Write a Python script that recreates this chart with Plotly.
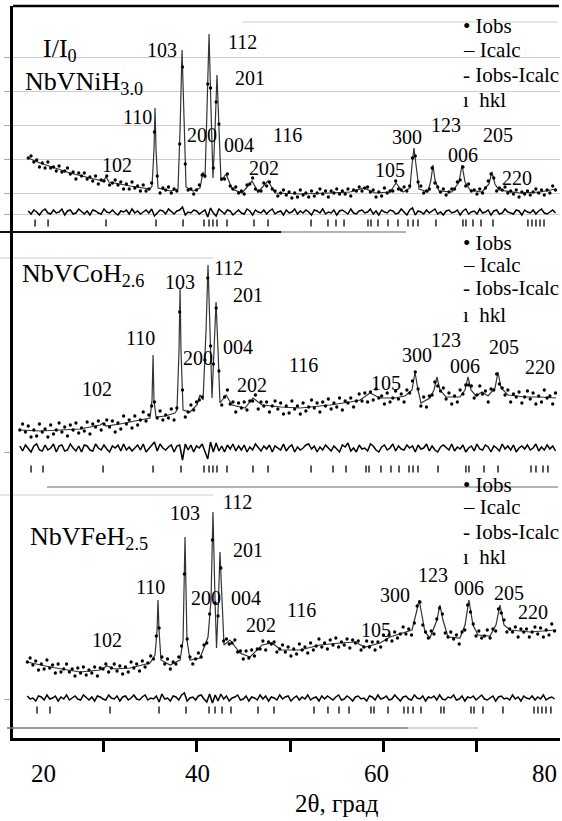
import numpy as np
import plotly.graph_objects as go

# ---------------- data ----------------
SCAN_STEP = 0.3  # 2theta step of the listed observed points, deg

# NbVNiH3.0
NI_START = 22.0
NI_OBS = [54,56,50,52,45,49,44,50,44,45, 41,46,40,41,44,38,40,33,39,36,
          39,33,35,31,36,28,32,31,36,27, 29,32,27,30,23,28,23,30,24,26,
          21,27,21,23,29,80,36,19,24,22, 25,19,23,21,68,145,48,22,23,18,
          22,27,37,36,128,124,44,110,88,33, 33,38,26,23,25,19,21,18,27,28,
          34,23,21,21,29,26,30,23,21,16, 19,22,17,20,14,19,15,22,17,19,
          15,21,16,19,23,18,21,15,21,19, 23,18,21,18,23,16,22,21,25,21,
          24,25,20,22,15,20,16,24,19,21, 21,31,23,22,25,21,26,54,56,30,
          26,19,21,23,44,29,25,20,23,17, 20,23,23,30,32,45,26,28,21,22,
          18,23,19,24,31,38,34,21,24,22, 25,19,21,18,22,15,20,18,21,17,
          20,23,19,22,17,22,19,26,22]
NI_DIFF = [1,-2,2,0,-3,1,3,-1,-2,2,-1,0,3,-3,1,2,-2,-1,3,0,
           -2,1,-3,2,1,-1,-2,3,0,-1,2,-1,-3,1,0,2,-2,3,-1,1,
           -2,0,2,-1,3,-4,-1,2,1,-2,3,0,-2,1,2,5,-3,0,-1,2,
           1,-2,0,2,-5,4,-1,-4,3,0,-2,2,1,-3,0,2,-1,-2,3,1,
           -3,2,0,-1,2,-2,1,3,-2,0,1,-3,2,-1,0,3,-2,1,-1,2,
           0,-3,2,1,-1,3,-2,0,-1,2,-3,1,2,0,-2,3,-1,-2,1,2,
           -1,0,3,-2,1,-3,2,0,-1,2,1,-2,-1,3,0,-3,2,4,-3,1,
           0,-2,2,-1,1,3,-2,0,-3,1,2,-1,0,2,-3,1,3,-2,0,1,
           -2,3,-1,0,2,-3,1,2,-2,-1,3,0,-1,-2,2,1,-3,2,0,-1,
           2,-2,1,3,-1,-2,0,2,-1]
NI_CALC_2T = [21.98,23.26,24.87,26.47,28.61,30.00,30.32,30.64,32.89,35.03,35.24,35.45,35.56,35.67,
              35.88,37.17,38.02,38.24,38.45,38.66,38.88,39.63,40.37,40.70,40.91,41.12,41.34,41.55,
              41.76,41.98,42.19,42.41,42.62,43.16,43.80,44.87,45.94,46.58,47.65,48.40,51.07,54.28,
              56.42,57.91,59.09,60.70,61.34,62.09,62.83,63.05,63.26,63.48,63.80,64.76,65.08,65.29,
              65.51,65.94,67.33,68.08,68.40,68.72,69.25,70.53,71.28,71.60,71.92,72.35,74.59,76.74,78.45]
NI_CALC_I = [54,49,44,39,34,31,35,30,26,23,26,62,104,62,
             24,21,23,82,162,82,25,21,24,40,34,102,178,102,
             34,82,137,82,31,38,23,19,31,20,31,19,18,19,
             20,24,19,20,29,20,24,47,64,47,23,20,32,47,
             32,21,20,30,47,30,22,20,28,40,28,22,19,20,23]
NI_HKL = [22.73,24.12,30.32,35.67,38.56,40.80,41.34,41.76,42.19,43.26,46.15,47.65,52.25,54.06,
          54.92,55.78,58.34,58.66,59.41,60.48,61.55,62.62,63.16,63.69,65.61,68.50,68.82,69.57,
          70.43,71.71,75.45,75.88,76.31,76.74,77.17]

# NbVCoH2.6
CO_START = 21.1
CO_OBS = [18,24,16,22,11,18,12,24,16,19, 11,23,14,18,25,16,21,12,23,18,
          25,15,20,17,26,14,24,21,27,18, 24,28,21,27,16,25,19,32,24,28,
          20,32,23,28,36,27,33,42,46,30, 37,28,33,30,39,28,40,136,58,31,
          36,43,38,46,48,51,88,170,102,84, 140,77,43,51,58,44,46,36,45,40,
          46,38,47,47,53,39,46,42,46,36, 42,47,39,45,34,42,35,47,39,42,
          34,45,37,41,48,40,45,36,46,42, 49,39,45,41,50,38,47,45,50,41,
          47,54,47,55,46,56,48,59,50,52, 44,55,46,50,57,49,54,46,58,55,
          67,76,59,42,51,41,52,53,66,62, 57,60,49,55,44,52,46,58,54,63,
          63,62,50,53,62,54,57,46,59,58, 74,64,60,53,58,46,54,51,56,45,
          51,57,49,55,44,52,46,58,50,52, 44,55]
CO_DIFF = [2,-3,3,0,-4,2,4,-2,-3,3,-2,0,4,-4,2,3,-3,-2,4,0,
           -3,2,-4,3,2,-2,-3,4,0,-2,3,-1,-4,2,0,3,-3,4,-2,1,
           -3,0,3,-2,4,-4,-1,3,6,-3,4,0,-2,1,3,-4,2,3,-12,4,
           -2,3,-4,2,0,4,-3,-11,6,-4,5,-3,2,-4,3,-1,4,-3,2,-2,
           3,-4,1,-2,4,0,-3,2,-1,3,-4,2,0,-2,4,-3,1,3,-4,1,
           -2,0,3,4,-1,2,-4,1,-2,3,0,-3,2,-1,-4,3,1,5,-3,0,
           -4,3,-1,0,-3,4,2,-2,-4,1,3,-2,0,4,-3,2,-1,-2,3,0,
           2,-4,3,-1,0,4,-3,2,-2,-4,1,3,0,-2,4,-3,1,-1,3,-4,
           0,2,-3,4,-1,-2,3,1,-4,2,0,-3,4,-1,2,-2,3,-4,0,2,
           -1,3,-2,0,4,-3,1,-2,3,-1,2,-3]
CO_CALC_2T = [21.12,23.26,25.40,27.54,29.68,30.00,30.32,31.82,33.96,35.03,35.24,35.35,35.45,35.67,
              36.63,37.70,37.91,38.13,38.24,38.34,38.56,39.30,40.05,40.37,40.70,41.02,41.23,41.44,
              41.66,41.87,42.09,42.30,42.51,43.16,43.80,45.19,46.04,47.01,49.04,51.07,54.28,56.42,
              57.49,58.56,59.63,61.23,62.30,63.05,63.37,63.69,64.01,64.97,65.40,65.72,66.04,66.68,
              68.18,68.72,69.04,69.36,69.89,70.53,71.18,71.93,72.25,72.57,73.32,75.13,76.74,78.45]
CO_CALC_I = [18,17,18,19,23,25,22,24,28,30,48,93,48,31,
             32,35,38,98,160,98,38,36,43,53,48,118,183,118,
             50,98,146,98,45,53,43,40,50,43,41,40,43,46,
             48,55,50,50,52,58,76,58,45,50,58,71,58,51,
             51,58,71,58,52,56,52,60,76,60,53,51,51,50]
CO_HKL = [22.30,23.58,30.00,35.35,38.34,40.80,41.34,41.76,42.19,43.26,46.04,47.65,52.25,54.60,
          55.99,58.13,58.45,59.73,60.80,61.66,62.73,63.16,63.69,65.83,68.82,69.14,70.75,72.25,
          75.78,76.31,77.06,77.59]

# NbVFeH2.5
FE_START = 21.9
FE_OBS = [36,40,33,37,28,34,29,38,30,33, 25,34,26,29,34,26,29,22,30,25,
          31,23,28,25,31,22,30,29,34,26, 30,34,27,32,24,31,26,36,30,34,
          27,37,31,35,42,39,62,70,41,34, 39,29,36,34,41,52,124,59,41,34,
          39,45,41,53,55,84,158,95,82,130, 57,59,54,55,58,46,47,39,47,40,
          48,42,49,49,57,48,56,54,56,46, 49,53,46,51,42,49,44,54,48,51,
          45,55,48,52,59,51,55,49,58,53, 60,51,56,53,59,50,58,55,57,48,
          51,57,51,56,48,56,51,63,58,63, 57,66,60,64,71,64,69,63,75,92,
          96,73,66,60,67,64,79,90,84,65, 61,66,59,63,54,66,68,93,86,74,
          62,67,60,62,68,60,69,67,89,85, 78,66,69,66,71,61,69,66,69,61,
          66,71,64,70,61,68,63,74,67]
FE_DIFF = [2,-1,0,-3,2,1,-2,3,-1,0,2,-3,1,-1,3,-2,0,2,-1,-2,
           3,0,-2,1,-3,2,1,-1,-2,3,0,-1,2,-3,1,2,-2,0,3,-1,
           -2,1,3,-2,0,-1,2,-4,4,-1,0,-3,2,1,-2,3,5,-3,0,1,
           -2,2,3,-1,-4,4,-5,3,-3,4,-1,2,-3,0,1,3,-2,-1,2,-3,
           1,0,-2,3,-1,2,-3,1,0,-2,3,-1,1,2,-3,0,2,-2,1,-1,
           3,-2,0,1,-3,2,-1,2,0,-2,1,3,-2,-1,2,0,-3,1,2,-1,
           0,-3,2,1,-2,3,-1,0,2,-2,-1,3,0,-3,1,2,-1,-2,3,0,
           -1,2,-3,1,0,2,-2,3,-1,-2,1,0,3,-2,-1,2,-3,1,0,2,
           -2,1,3,-1,-2,0,2,-3,1,2,-1,0,-2,3,-1,1,-3,2,0,-1,
           2,-2,1,-1,3,-2,0,1,-1]
FE_CALC_2T = [21.87,24.33,27.54,29.68,30.43,31.18,32.89,35.03,35.56,35.78,35.88,35.99,36.20,37.17,
              38.24,38.56,38.77,38.98,39.30,40.37,40.91,41.23,41.55,41.76,41.98,42.14,42.35,42.51,
              42.73,42.94,43.58,44.65,45.72,47.01,48.07,49.04,51.07,53.21,55.35,56.95,58.02,59.63,
              60.70,63.05,63.58,63.80,64.01,64.44,64.97,65.72,66.04,66.36,66.90,68.18,68.72,69.14,
              69.57,70.11,71.39,72.03,72.46,72.89,73.53,75.67,78.45]
FE_CALC_I = [36,31,26,28,32,29,30,35,43,68,98,68,38,33,
             38,58,161,58,38,40,53,61,98,186,98,50,98,146,
             98,53,58,45,41,53,55,48,48,53,55,56,51,55,
             61,68,88,98,88,66,60,78,93,78,61,60,73,98,
             73,63,62,73,93,73,68,66,68]
FE_HKL = [22.94,24.33,30.75,35.99,38.88,41.34,41.98,42.73,43.69,46.58,48.29,52.57,54.06,55.24,
          56.31,58.66,58.98,60.48,62.19,62.62,63.16,64.01,66.15,66.47,69.36,69.68,70.64,72.78,
          76.10,76.52,76.95,77.38,77.91]

HKL_LABELS = ["102","110","103","200","112","201","004","202","116","105","300","123","006","205","220"]
X_TICK_LABELS = ["20", "40", "60", "80"]
SAMPLES = ["NbVNiH<sub>3.0</sub>", "NbVCoH<sub>2.6</sub>", "NbVFeH<sub>2.5</sub>"]
LEGEND_TEXT = ["• Iobs", "– Icalc", "- Iobs-Icalc", "ı  hkl"]

# ---------------- layout / placement (styles) ----------------
W, H = 562, 821
ML, MR, MT, MB = 13, 2, 6, 83
PW, PH = W - ML - MR, H - MT - MB
FONT = "Liberation Serif, Times New Roman, DejaVu Serif, serif"

def px(x):
    return (x - ML) / PW

def py(y):
    return (H - MB - y) / PH

# label positions (2theta, intensity) in each panel, same order as HKL_LABELS
LABEL_POS = [
    [(31.50,47),(33.64,95),(36.31,162),(40.59,77),(44.87,170),(45.72,134),(44.55,67),(47.22,44),
     (49.68,77),(60.70,42),(62.51,75),(66.68,87),(68.50,57),(72.25,77),(74.28,34)],
    [(29.36,59),(33.96,110),(38.24,166),(40.16,90),(43.37,180),(45.51,153),(44.44,101),(45.94,63),
     (51.39,83),(60.27,65),(63.58,93),(66.68,108),(68.72,82),(72.89,101),(76.74,81)],
    [(30.43,58),(35.03,111),(38.77,185),(41.02,100),(44.33,196),(45.51,148),(45.29,100),(46.90,73),
     (51.28,88),(59.20,68),(61.23,103),(65.29,123),(69.14,110),(73.42,105),(75.99,86)],
]

panels = [
    dict(start=NI_START, obs=NI_OBS, diff=NI_DIFF, c2t=NI_CALC_2T, ci=NI_CALC_I, hkl=NI_HKL,
         yref="y", ykey="yaxis", dom=[py(232), py(6)], rng=[-20, 206], hkl_y=-11,
         name_xy=(23, 83), leg_y=[26, 50, 75, 100], tickvals=[-2, 19, 53, 87, 121, 155], grid=True),
    dict(start=CO_START, obs=CO_OBS, diff=CO_DIFF, c2t=CO_CALC_2T, ci=CO_CALC_I, hkl=CO_HKL,
         yref="y2", ykey="yaxis2", dom=[py(487), py(232)], rng=[-39, 216], hkl_y=-21,
         name_xy=(20, 275), leg_y=[243, 265, 288, 315], tickvals=[-4], grid=False),
    dict(start=FE_START, obs=FE_OBS, diff=FE_DIFF, c2t=FE_CALC_2T, ci=FE_CALC_I, hkl=FE_HKL,
         yref="y3", ykey="yaxis3", dom=[0, py(487)], rng=[-40, 211], hkl_y=-12,
         name_xy=(28, 538), leg_y=[485, 507, 532, 557], tickvals=[-1], grid=False),
]

fig = go.Figure()
annotations = []
layout_axes = {}

for k, p in enumerate(panels):
    x_obs = p["start"] + SCAN_STEP * np.arange(len(p["obs"]))
    x_diff = p["start"] + SCAN_STEP * np.arange(len(p["diff"]))
    fig.add_trace(go.Scatter(x=p["c2t"], y=p["ci"], mode="lines", yaxis=p["yref"],
                             line=dict(color="#333333", width=1.2), hoverinfo="skip"))
    fig.add_trace(go.Scatter(x=x_obs, y=p["obs"], mode="markers", yaxis=p["yref"],
                             marker=dict(color="black", size=3.3), hoverinfo="skip"))
    fig.add_trace(go.Scatter(x=x_diff, y=p["diff"], mode="lines", yaxis=p["yref"],
                             line=dict(color="black", width=1.5), hoverinfo="skip"))
    fig.add_trace(go.Scatter(x=p["hkl"], y=[p["hkl_y"]] * len(p["hkl"]), mode="markers",
                             yaxis=p["yref"],
                             marker=dict(symbol="line-ns", size=5, color="black",
                                         line=dict(color="black", width=1.3)),
                             hoverinfo="skip"))
    layout_axes[p["ykey"]] = dict(
        domain=p["dom"], range=p["rng"], anchor="x",
        showline=True, linecolor="black", linewidth=3,
        ticks="outside", ticklen=6, tickwidth=1, tickcolor="#aaaaaa",
        tickvals=p["tickvals"], showticklabels=False, zeroline=False,
        showgrid=p["grid"], gridcolor="#cfcfcf", gridwidth=1, fixedrange=True)
    for lab, (lx, ly) in zip(HKL_LABELS, LABEL_POS[k]):
        annotations.append(dict(x=lx, y=ly, xref="x", yref=p["yref"], text=lab,
                                showarrow=False, xanchor="center", yanchor="middle",
                                font=dict(family=FONT, size=20, color="black")))
    nx, ny = p["name_xy"]
    annotations.append(dict(x=px(nx), y=py(ny), xref="paper", yref="paper", text=SAMPLES[k],
                            showarrow=False, xanchor="left", yanchor="middle",
                            font=dict(family=FONT, size=26, color="black")))
    for t, ly in zip(LEGEND_TEXT, p["leg_y"]):
        annotations.append(dict(x=px(461), y=py(ly), xref="paper", yref="paper", text=t,
                                showarrow=False, xanchor="left", yanchor="middle",
                                font=dict(family=FONT, size=21, color="black")))

annotations.append(dict(x=px(60), y=py(50), xref="paper", yref="paper", text="I/I<sub>0</sub>",
                        showarrow=False, xanchor="center", yanchor="middle",
                        font=dict(family=FONT, size=26, color="black")))
for t, lx in zip(X_TICK_LABELS, [43, 197, 376, 544]):
    annotations.append(dict(x=px(lx), y=py(773), xref="paper", yref="paper", text=t,
                            showarrow=False, xanchor="center", yanchor="middle",
                            font=dict(family=FONT, size=25, color="black")))
annotations.append(dict(x=px(337), y=py(803), xref="paper", yref="paper", text="2θ, град",
                        showarrow=False, xanchor="center", yanchor="middle",
                        font=dict(family=FONT, size=25, color="black")))

def hline(x0, x1, y, color, width, layer="above"):
    return dict(type="line", xref="paper", yref="paper", x0=px(x0), x1=px(x1), y0=py(y), y1=py(y),
                line=dict(color=color, width=width), layer=layer)

shapes = [
    hline(13, 559, 6, "black", 2.5),
    hline(0, 281, 232, "#111111", 2.2),
    hline(281, 406, 232, "#9a9a9a", 1.5),
    hline(243, 558, 22, "#cccccc", 1, "below"),
    hline(0, 213, 258, "#cccccc", 1, "below"),
    hline(47, 558, 487, "#9a9a9a", 1.5),
    hline(0, 213, 495, "#cccccc", 1, "below"),
    hline(7, 408, 728, "#777777", 1.5),
    hline(408, 478, 728, "#c8c8c8", 1.5),
]

fig.update_layout(
    width=W, height=H, margin=dict(l=ML, r=MR, t=MT, b=MB),
    paper_bgcolor="white", plot_bgcolor="white", showlegend=False,
    font=dict(family=FONT, color="black"),
    xaxis=dict(domain=[0, 1], range=[20.37, 78.88], anchor="y3",
               showline=True, linecolor="black", linewidth=3,
               ticks="outside", ticklen=11, tickwidth=2.5, tickcolor="black",
               tickvals=[30, 40, 50, 60, 70], showticklabels=False,
               showgrid=False, zeroline=False, fixedrange=True),
    annotations=annotations, shapes=shapes,
    **layout_axes,
)

fig.write_html("out.html")
